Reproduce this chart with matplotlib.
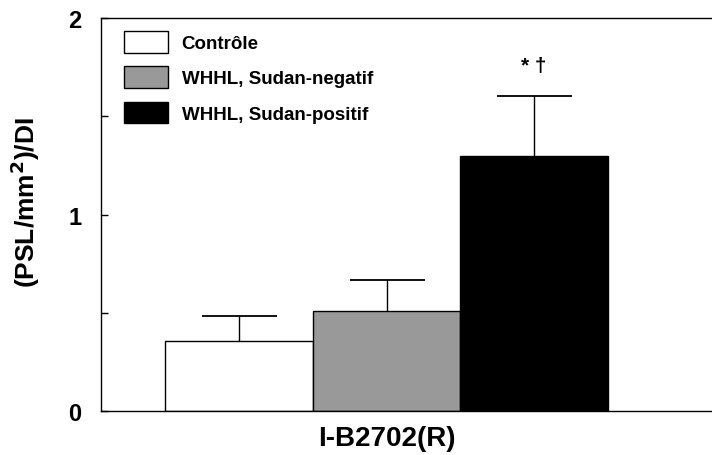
import numpy as np
import matplotlib
matplotlib.use("Agg")
import matplotlib.pyplot as plt

plt.rcParams['font.family'] = ['Liberation Sans', 'DejaVu Sans']
plt.rcParams['font.weight'] = 'bold'

# data
groups = ["Contrôle", "WHHL, Sudan-negatif", "WHHL, Sudan-positif"]
means = [0.356, 0.509, 1.298]
errors = [0.127, 0.158, 0.305]
colors = ["white", "#999999", "black"]
category = "I-B2702(R)"

fig = plt.figure(figsize=(7.12, 4.56), dpi=100)
ax = fig.add_axes([101/712, 1 - 412/456, 1 - 101/712, (412 - 19)/456])

offsets = np.array([-1, 0, 1])
for i in range(len(groups)):
    ax.bar(offsets[i], means[i], width=1.0, color=colors[i], edgecolor="black",
           linewidth=1.0, label=groups[i], zorder=2)
    eb = ax.errorbar(offsets[i], means[i], yerr=[[0], [errors[i]]], fmt="none",
                     ecolor="black", elinewidth=1.0, capsize=27, capthick=1.3, zorder=1)
    # only the upper cap
    eb[1][0].set_visible(False)

ax.text(offsets[2], 1.756, "* †", ha="center", va="center", fontsize=15, fontweight="bold")

ax.set_xlim(-1.936, 2.207)
ax.set_ylim(0, 2)
ax.set_yticks([0, 1, 2])
ax.set_yticks([0.5, 1.5], minor=True)
ax.tick_params(axis="y", which="both", direction="in", length=5, width=1.0, labelsize=17, pad=14)
ax.set_xticks([0])
ax.set_xticklabels([category], fontsize=20, fontweight="bold")
ax.tick_params(axis="x", length=0, pad=10)
ax.spines["right"].set_visible(False)
for s in ["left", "bottom", "top"]:
    ax.spines[s].set_linewidth(1.0)

ax.set_ylabel("(PSL/mm$^\\mathbf{2}$)/DI", fontsize=19, fontweight="bold")
ax.yaxis.set_label_coords(-0.0966, 0.532)

ax.legend(loc="upper left", bbox_to_anchor=(0.02, 0.995), frameon=False, fontsize=13.5,
          handlelength=2.3, handleheight=1.4, labelspacing=0.72, handletextpad=0.75,
          borderaxespad=0.2)

fig.savefig("out.png", dpi=100)
